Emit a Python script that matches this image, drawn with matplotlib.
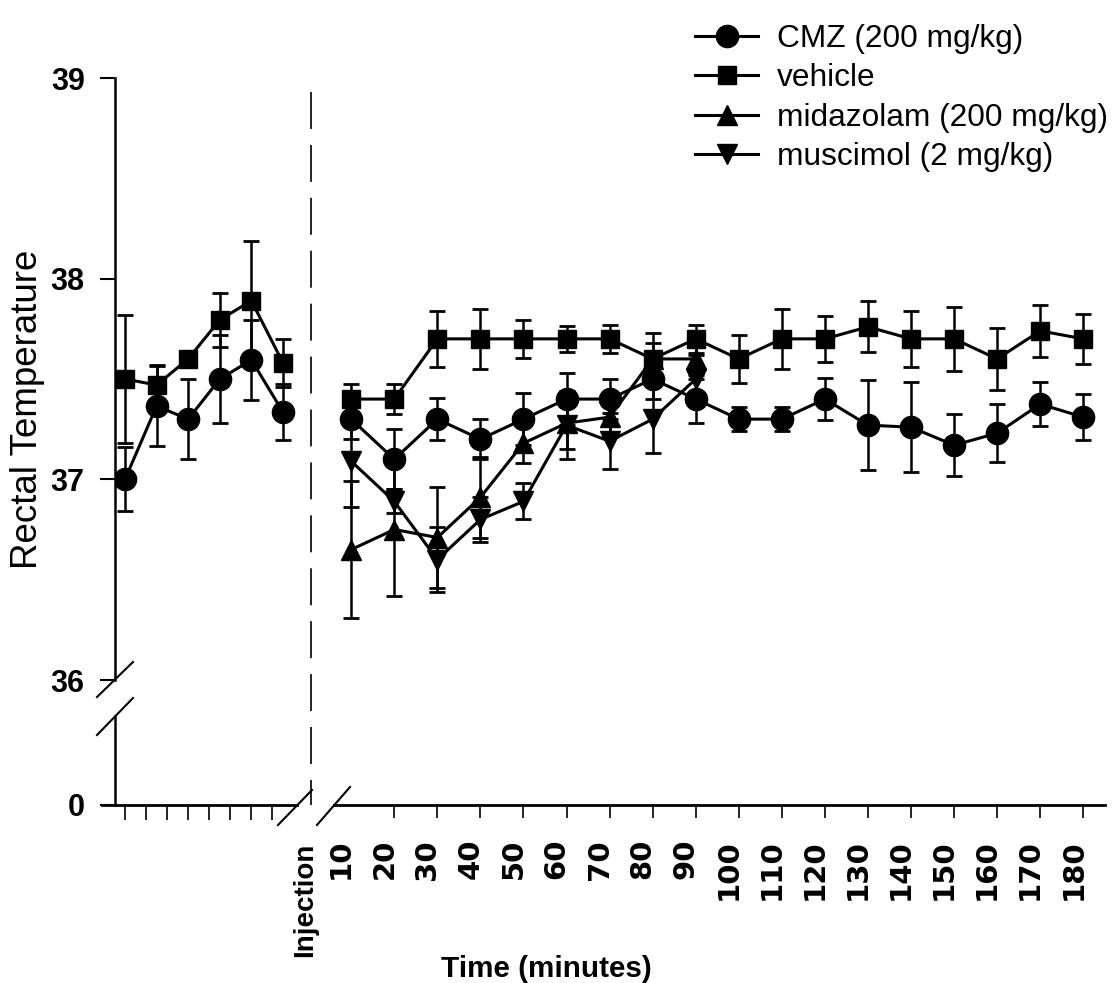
import numpy as np
import matplotlib
matplotlib.use('Agg')
import matplotlib.pyplot as plt
from matplotlib.lines import Line2D
from matplotlib import font_manager
from matplotlib.font_manager import FontProperties
from matplotlib.transforms import ScaledTranslation

plt.rcParams['lines.scale_dashes'] = False

# ---------------- data ----------------
series_labels = ["CMZ (200 mg/kg)", "vehicle", "midazolam (200 mg/kg)", "muscimol (2 mg/kg)"]

# pre-injection baseline readings (positions only, unlabeled axis)
pre_pos = [1, 2, 3, 4, 5, 6]
pre_cmz = [37.00, 37.365, 37.30, 37.50, 37.595, 37.335]
pre_cmz_err = [0.16, 0.20, 0.20, 0.22, 0.20, 0.14]
pre_veh = [37.50, 37.47, 37.60, 37.795, 37.89, 37.58]
pre_veh_err = [0.32, 0.10, 0.03, 0.135, 0.30, 0.12]

# post-injection readings
time_min = [10, 20, 30, 40, 50, 60, 70, 80, 90, 100, 110, 120, 130, 140, 150, 160, 170, 180]
cmz = [37.30, 37.10, 37.30, 37.20, 37.30, 37.40, 37.40, 37.50, 37.40, 37.30, 37.30, 37.40,
       37.27, 37.26, 37.17, 37.23, 37.375, 37.31]
cmz_err = [0.10, 0.15, 0.105, 0.10, 0.13, 0.13, 0.10, 0.10, 0.12, 0.06, 0.06, 0.105,
           0.225, 0.225, 0.155, 0.145, 0.11, 0.113]
veh = [37.40, 37.40, 37.70, 37.70, 37.70, 37.70, 37.70, 37.60, 37.70, 37.60, 37.70, 37.70,
       37.76, 37.70, 37.70, 37.60, 37.74, 37.70]
veh_err = [0.075, 0.075, 0.14, 0.15, 0.095, 0.065, 0.07, 0.13, 0.07, 0.12, 0.15, 0.115,
           0.127, 0.14, 0.16, 0.153, 0.13, 0.125]
short_time = [10, 20, 30, 40, 50, 60, 70, 80, 90]
mid = [36.65, 36.75, 36.71, 36.91, 37.18, 37.28, 37.31, 37.60, 37.60]
mid_err = [0.34, 0.33, 0.25, 0.20, 0.10, 0.13, 0.10, 0.08, 0.10]
mus = [37.09, 36.89, 36.60, 36.80, 36.89, 37.27, 37.19, 37.30, 37.50]
mus_err = [0.23, 0.06, 0.16, 0.11, 0.09, 0.17, 0.14, 0.17, 0.12]

y_ticks = [0, 36, 37, 38, 39]
y_ticklabels = ["0", "36", "37", "38", "39"]

# ---------------- fonts ----------------
names = {f.name for f in font_manager.fontManager.ttflist}
if 'Liberation Sans Narrow' in names:
    NARROW, ytick_fs, xlabel_fs = 'Liberation Sans Narrow', 25, 25.5
else:
    NARROW, ytick_fs, xlabel_fs = 'Liberation Sans', 22, 21.3

W, H = 1112, 983
fig = plt.figure(figsize=(W / 100, H / 100), dpi=100)

def fx(px):
    return px / W

def fy(py):
    return 1 - py / H

# broken y scale: 36..39 linear, 0..36 compressed
K = 0.6229 / 36.0

def fwd(y):
    y = np.asarray(y, dtype=float)
    return np.where(y >= 36, y, 36 - (36 - y) * K)

def inv(v):
    v = np.asarray(v, dtype=float)
    return np.where(v >= 36, v, 36 - (36 - v) / K)

bottom = fy(805)
height = (805 - 78) / H
axL = fig.add_axes([fx(115), bottom, (297 - 115) / W, height])
axR = fig.add_axes([fx(334), bottom, (1105 - 334) / W, height])

styles = dict(color='black', lw=2.2, elinewidth=1.8, capsize=5.5, capthick=2.0)

for ax in (axL, axR):
    ax.set_yscale('function', functions=(fwd, inv))
    ax.set_ylim(0, 39)
    ax.spines['top'].set_visible(False)
    ax.spines['right'].set_visible(False)
    ax.spines['bottom'].set_linewidth(2.0)
    ax.patch.set_visible(False)

# left (pre-injection) panel
axL.errorbar(pre_pos, pre_veh, yerr=pre_veh_err, marker='s', ms=13.5, **styles)
axL.errorbar(pre_pos, pre_cmz, yerr=pre_cmz_err, marker='o', ms=16, **styles)
axL.set_xlim(0.684, 6.443)
axL.set_xticks([1 + i * 0.6646 for i in range(8)])
axL.set_xticklabels([])
axL.tick_params(axis='x', direction='out', length=10.8, width=1.2)
axL.spines['left'].set_linewidth(1.8)
axL.spines['left'].set_bounds(36, 39)
axL.set_yticks(y_ticks)
axL.set_yticklabels(y_ticklabels, fontfamily=NARROW, fontweight='bold', fontsize=ytick_fs)
axL.tick_params(axis='y', direction='out', length=10.8, width=1.5, pad=11)
axL.minorticks_off()

# right (post-injection) panel
h_cmz = axR.errorbar(time_min, cmz, yerr=cmz_err, marker='o', ms=16, **styles)
h_veh = axR.errorbar(time_min, veh, yerr=veh_err, marker='s', ms=13.5, **styles)
h_mid = axR.errorbar(short_time, mid, yerr=mid_err, marker='^', ms=14, **styles)
h_mus = axR.errorbar(short_time, mus, yerr=mus_err, marker='v', ms=14, **styles)
axR.set_xlim(6.0, 185.05)
axR.spines['left'].set_visible(False)
axR.set_yticks([])
axR.minorticks_off()
axR.tick_params(axis='y', which='both', left=False, labelleft=False)
axR.set_xticks(time_min)
axR.set_xticklabels([str(t) for t in time_min], rotation=90,
                    fontfamily='DejaVu Sans', fontweight='bold', fontsize=21)
axR.tick_params(axis='x', direction='out', length=9.4, width=1.2, pad=15)
off = ScaledTranslation(-10 / 100, 0, fig.dpi_scale_trans)
ticks = axR.xaxis.get_major_ticks()
ticks[0].tick1line.set_visible(False)
for t in ticks:
    t.label1.set_transform(t.label1.get_transform() + off)

# decorations: axis breaks, spine extension, injection line
deco = dict(color='black', lw=1.5, transform=fig.transFigure)
fig.add_artist(Line2D([fx(115), fx(115)], [fy(805), fy(716)], color='black', lw=1.8,
                      transform=fig.transFigure))
fig.add_artist(Line2D([fx(102), fx(116)], [fy(805), fy(805)], color='black', lw=2.0,
                      transform=fig.transFigure))
for (x0, y0, x1, y1) in [(97, 697, 133, 662), (97, 735, 133, 698),
                         (278, 825, 312, 790), (317, 825, 350, 787)]:
    fig.add_artist(Line2D([fx(x0), fx(x1)], [fy(y0), fy(y1)], **deco))
fig.add_artist(Line2D([fx(311), fx(311)], [fy(92), fy(805)], color='black', lw=1.2,
                      linestyle=(0, (26.6, 11.5)), transform=fig.transFigure))

# texts
fig.text(fx(305), fy(843), "Injection", rotation=90, ha='center', va='top',
         fontfamily='Liberation Sans', fontweight='bold', fontsize=20)
fig.text(fx(546), fy(977), "Time (minutes)", ha='center', va='baseline',
         fontfamily=NARROW, fontweight='bold', fontsize=xlabel_fs)
fig.text(fx(28), fy(409), "Rectal Temperature", rotation=90, ha='center', va='center',
         fontfamily='Liberation Sans', fontsize=26.5)

# legend
handles = [h_cmz[0], h_veh[0], h_mid[0], h_mus[0]]
fig.legend(handles, series_labels, loc='upper left',
           bbox_to_anchor=(fx(695), fy(24)), frameon=False, borderpad=0,
           borderaxespad=0, handlelength=2.0, handletextpad=0.58, labelspacing=0.3,
           numpoints=1, prop=FontProperties(family='Liberation Sans', size=22.8))

fig.savefig('out.png', dpi=100)
